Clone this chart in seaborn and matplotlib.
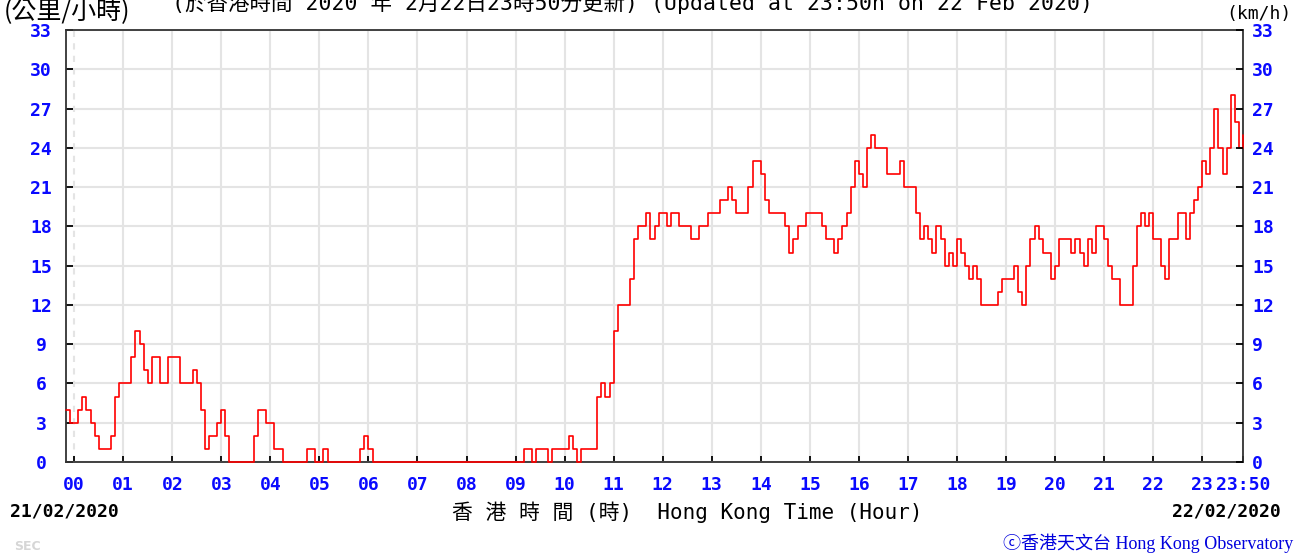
import numpy as np
import pandas as pd
import matplotlib
matplotlib.use("Agg")
import matplotlib.pyplot as plt
import seaborn as sns

# ---- data: wind speed readings (km/h), sampled every 5 minutes ----
prev_day = [4, 3]                                   # 23:50, 23:55 of 21/02
h00 = [3, 4, 5, 4, 3, 2, 1, 1, 1, 2, 5, 6]
h01 = [6, 6, 8, 10, 9, 7, 6, 8, 8, 6, 6, 8]
h02 = [8, 8, 6, 6, 6, 7, 6, 4, 1, 2, 2, 3]
h03 = [4, 2, 0, 0, 0, 0, 0, 0, 2, 4, 4, 3]
h04 = [3, 1, 1, 0, 0, 0, 0, 0, 0, 1, 1, 0]
h05 = [0, 1, 0, 0, 0, 0, 0, 0, 0, 0, 1, 2]
h06 = [1, 0, 0, 0, 0, 0, 0, 0, 0, 0, 0, 0]
h07 = [0, 0, 0, 0, 0, 0, 0, 0, 0, 0, 0, 0]
h08 = [0, 0, 0, 0, 0, 0, 0, 0, 0, 0, 0, 0]
h09 = [0, 0, 1, 1, 0, 1, 1, 1, 0, 1, 1, 1]
h10 = [1, 2, 1, 0, 1, 1, 1, 1, 5, 6, 5, 6]
h11 = [10, 12, 12, 12, 14, 17, 18, 18, 19, 17, 18, 19]
h12 = [19, 18, 19, 19, 18, 18, 18, 17, 17, 18, 18, 19]
h13 = [19, 19, 20, 20, 21, 20, 19, 19, 19, 21, 23, 23]
h14 = [22, 20, 19, 19, 19, 19, 18, 16, 17, 18, 18, 19]
h15 = [19, 19, 19, 18, 17, 17, 16, 17, 18, 19, 21, 23]
h16 = [22, 21, 24, 25, 24, 24, 24, 22, 22, 22, 23, 21]
h17 = [21, 21, 19, 17, 18, 17, 16, 18, 17, 15, 16, 15]
h18 = [17, 16, 15, 14, 15, 14, 12, 12, 12, 12, 13, 14]
h19 = [14, 14, 15, 13, 12, 15, 17, 18, 17, 16, 16, 14]
h20 = [15, 17, 17, 17, 16, 17, 16, 15, 17, 16, 18, 18]
h21 = [17, 15, 14, 14, 12, 12, 12, 15, 18, 19, 18, 19]
h22 = [17, 17, 15, 14, 17, 17, 19, 19, 17, 19, 20, 21]
h23 = [23, 22, 24, 27, 24, 22, 24, 28, 26, 24, 25]   # 23:00 .. 23:50

speeds = (prev_day + h00 + h01 + h02 + h03 + h04 + h05 + h06 + h07 + h08 + h09
          + h10 + h11 + h12 + h13 + h14 + h15 + h16 + h17 + h18 + h19 + h20
          + h21 + h22 + h23)
minutes = np.arange(-10, 1431, 5)      # minutes after 00:00

tick_minutes = [h * 60 for h in range(24)] + [1430]
tick_labels = [f"{h:02d}" for h in range(24)] + ["23:50"]
y_ticks = list(range(0, 34, 3))

df = pd.DataFrame({"minute": minutes, "speed": speeds})

# ---- figure ----
W, H = 1311, 554
sns.set_theme(style="white")
plt.rcParams["font.family"] = ["DejaVu Sans Mono", "Noto Sans CJK TC"]

fig = plt.figure(figsize=(W / 100, H / 100), dpi=100)
fig.patch.set_facecolor("white")
L, R, T, B = 66, 1243, 30, 462
ax = fig.add_axes([L / W, 1 - B / H, (R - L) / W, (B - T) / H])

sns.lineplot(data=df, x="minute", y="speed", drawstyle="steps-post",
             color="#ff0000", linewidth=1.2, estimator=None, ax=ax)
for ln in ax.lines:
    ln.set_zorder(4)
    ln.set_clip_on(False)

ax.set_xlim(-10, 1430)
ax.set_ylim(0, 33)
ax.set_xlabel("")
ax.set_ylabel("")
ax.set_xticks(tick_minutes, tick_labels)
ax.set_yticks(y_ticks, [str(v) for v in y_ticks])

ax.grid(True, color="#e4e4e4", linewidth=1.5)
ax.set_axisbelow(True)
ax.get_xgridlines()[0].set_linestyle((0, (3, 3)))

for s in ax.spines.values():
    s.set_color("#333333")
    s.set_linewidth(1.3)

blue = "#0a0aff"
ax.tick_params(axis="x", direction="in", length=4, width=1.3, color="black",
               pad=10, labelsize=13, labelcolor=blue, bottom=True)
ax.tick_params(axis="y", direction="in", length=5, width=1.3, color="black",
               pad=18, labelsize=13, labelcolor=blue, left=True, right=False)
for lbl in ax.get_xticklabels():
    lbl.set_fontweight("bold")
for lbl in ax.get_yticklabels():
    lbl.set_fontweight("bold")
    lbl.set_horizontalalignment("center")

ax2 = ax.twinx()
ax2.set_ylim(0, 33)
ax2.set_yticks(y_ticks, [str(v) for v in y_ticks])
ax2.tick_params(axis="y", direction="in", length=5, width=1.3, color="black",
                pad=6.5, labelsize=13, labelcolor=blue, right=True)
for lbl in ax2.get_yticklabels():
    lbl.set_fontweight("bold")
ax2.grid(False)
for s in ax2.spines.values():
    s.set_visible(False)


def P(x, y):
    return x / W, 1 - y / H


mix = ["DejaVu Sans Mono", "Noto Sans CJK TC"]
fig.text(*P(4, 11), "(公里/小時)", fontsize=18, family=["Noto Sans CJK TC"],
         ha="left", va="center", color="black")
fig.text(*P(172, 10), "(於香港時間 2020 年 2月22日23時50分更新) (Updated at 23:50h on 22 Feb 2020)",
         fontsize=15.5, family=mix, ha="left", va="baseline", color="black")
fig.text(*P(1226, 14), "(km/h)", fontsize=13, family=mix, ha="left", va="center", color="black")

fig.text(*P(687, 512), "香 港 時 間 (時)  Hong Kong Time (Hour)", fontsize=15, family=mix,
         ha="center", va="center", color="black")
fig.text(*P(10, 512), "21/02/2020", fontsize=13, fontweight="bold", family=mix,
         ha="left", va="center", color="black")
fig.text(*P(1281, 512), "22/02/2020", fontsize=13, fontweight="bold", family=mix,
         ha="right", va="center", color="black")
fig.text(*P(14, 547), "SEC", fontsize=9, fontweight="bold", family=["DejaVu Sans"],
         ha="left", va="center", color="#d6d6d6")
fig.text(*P(1293, 543), "ⓒ香港天文台 Hong Kong Observatory", fontsize=13,
         family=["Liberation Serif", "Noto Sans CJK TC", "DejaVu Sans"],
         ha="right", va="center", color="#0000dd")

fig.savefig("out.png", dpi=100, facecolor="white")
